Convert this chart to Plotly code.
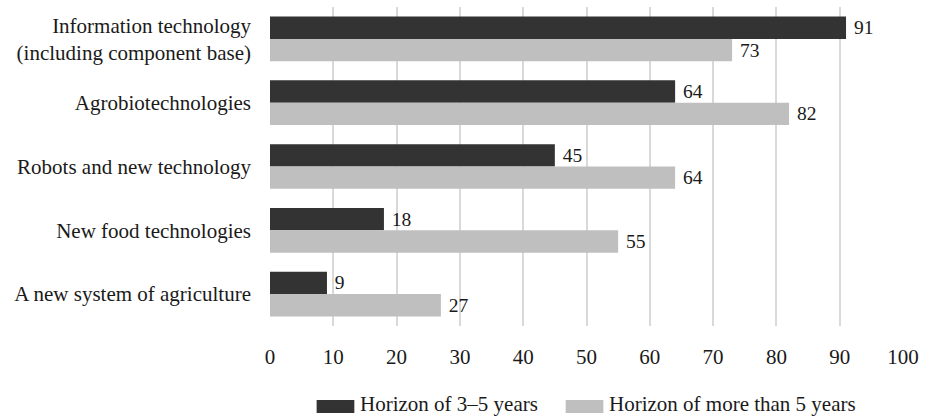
import plotly.graph_objects as go

# Survey data: share of experts (%) by technology area and time horizon
categories = [
    "Information technology<br>(including component base)",
    "Agrobiotechnologies",
    "Robots and new technology",
    "New food technologies",
    "A new system of agriculture",
]
horizon_3_5 = [91, 64, 45, 18, 9]
horizon_5_plus = [73, 82, 64, 55, 27]
series_names = ["Horizon of 3–5 years", "Horizon of more than 5 years"]
x_ticks = [0, 10, 20, 30, 40, 50, 60, 70, 80, 90, 100]

DARK = "#333333"
LIGHT = "#bfbfbf"
FONT = "'Times New Roman', 'Liberation Serif', Times, serif"
TEXT = "#1a1a1a"

W, H = 926, 416
M_L, M_R, M_T, M_B = 270, 18, 7, 90
PW, PH = W - M_L - M_R, H - M_T - M_B

fig = go.Figure()
for name, vals, col in [(series_names[0], horizon_3_5, DARK),
                        (series_names[1], horizon_5_plus, LIGHT)]:
    fig.add_trace(go.Bar(
        y=categories, x=vals, name=name, orientation="h",
        marker=dict(color=col, line=dict(width=0)),
        text=["\u00a0" + str(v) for v in vals],
        textposition="outside", cliponaxis=False,
        textfont=dict(family=FONT, size=21, color=TEXT),
        showlegend=False,
    ))


def px_x(px):
    return (px - M_L) / PW


def px_y(py):
    return (H - M_B - py) / PH


# Legend drawn as wide swatches with labels beneath the plot
legend_items = [(series_names[0], DARK, 317), (series_names[1], LIGHT, 568)]
shapes, annotations = [], []
for name, col, x0 in legend_items:
    shapes.append(dict(type="rect", xref="paper", yref="paper",
                       x0=px_x(x0), x1=px_x(x0 + 38),
                       y0=px_y(413), y1=px_y(400),
                       fillcolor=col, line=dict(width=0)))
    annotations.append(dict(xref="paper", yref="paper",
                            x=px_x(x0 + 42), y=px_y(404),
                            xanchor="left", yanchor="middle",
                            text=name, showarrow=False,
                            font=dict(family=FONT, size=21, color=TEXT)))

fig.update_layout(
    width=W, height=H,
    margin=dict(l=M_L, r=M_R, t=M_T, b=M_B),
    paper_bgcolor="white", plot_bgcolor="white",
    barmode="group", bargap=0.30, bargroupgap=0,
    font=dict(family=FONT, size=21, color=TEXT),
    shapes=shapes, annotations=annotations,
    xaxis=dict(range=[0, 100], tickvals=x_ticks, showgrid=True,
               gridcolor="#d9d9d9", gridwidth=2, zeroline=False,
               showline=False, ticks="", ticklabelstandoff=16,
               tickfont=dict(family=FONT, size=21, color=TEXT)),
    yaxis=dict(autorange="reversed", showgrid=False, zeroline=False,
               showline=False, ticks="", ticklabelstandoff=18,
               tickfont=dict(family=FONT, size=21, color=TEXT)),
)

fig.write_html("out.html")
